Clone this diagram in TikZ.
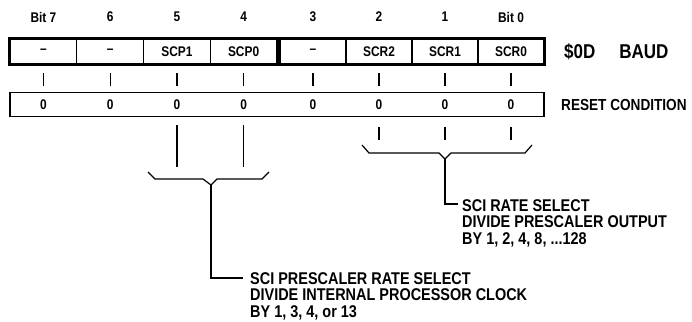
\documentclass[tikz,border=0pt]{standalone}
\usepackage{fontspec}
\usetikzlibrary{calc}
\newfontfamily\regfont[FakeStretch=0.85]{Liberation Sans}
\tikzset{
  lbl/.style={inner sep=0pt,font=\regfont\bfseries\fontsize{14}{16}\selectfont},
  cell/.style={lbl,draw,line width=1.3pt,minimum height=25pt},
  note/.style={lbl,anchor=north west,align=left,font=\regfont\bfseries\fontsize{17}{16.5}\selectfont},
  wire/.style={line width=1.2pt},
}
\begin{document}
\begin{tikzpicture}[x=1pt,y=-1pt]
\useasboundingbox (0,0) rectangle (692,321);
\foreach \n/\x/\t in {7/43.4/\textendash,6/110.1/\textendash,5/176.9/SCP1,4/243.6/SCP0}
  \node[cell,minimum width=66.75pt] (c\n) at (\x,51.5) {\t};
\foreach \n/\x/\t in {3/313/\textendash,2/379/SCR2,1/445/SCR1,0/511/SCR0}
  \node[cell,minimum width=66pt] (c\n) at (\x,51.5) {\t};
\draw[line width=2.2pt] (c7.north west) rectangle (c4.south east);
\draw[line width=2.2pt] (c3.north west) rectangle (c0.south east);
\foreach \n/\t in {7/Bit 7,6/6,5/5,4/4,3/3,2/2,1/1,0/Bit 0}
  \node[lbl] (b\n) at (c\n |- 0,17) {\t};
\foreach \n in {0,...,7} \draw[wire] (c\n |- 0,73) -- (c\n |- 0,86);
\node[draw,line width=1.1pt,minimum width=534pt,minimum height=24pt,inner sep=0pt] (rst) at (277,104.5) {};
\foreach \n in {0,...,7} \node[lbl] (z\n) at (c\n |- rst) {0};
\node[lbl,anchor=west,font=\regfont\bfseries\fontsize{16}{18}\selectfont] (rc) at (561,104.5) {RESET CONDITION};
\node[lbl,anchor=west,font=\regfont\bfseries\fontsize{20}{22}\selectfont] (baud) at (564,51.5) {\$0D\hspace{24pt}BAUD};
\draw[wire] (c5 |- 0,125) -- (c5 |- 0,167);
\draw[wire] (c4 |- 0,125) -- (c4 |- 0,167);
\coordinate (ldip) at (c5.east |- 0,185);
\draw[wire] (148,172) -- (155,179) -- (203,179) -- (ldip) -- (217,179) -- (262,179) -- (269,172);
\node[note] (ltxt) at (250,272) {SCI PRESCALER RATE SELECT\\DIVIDE INTERNAL PROCESSOR CLOCK\\BY 1, 3, 4, or 13};
\draw[wire] (ldip) |- ($(ltxt.north west)+(-7,6)$);
\foreach \n in {0,1,2} \draw[wire] (c\n |- 0,127) -- (c\n |- 0,140);
\coordinate (rdip) at (c1 |- 0,159);
\draw[wire] (362,145) -- (369,153) -- (439,153) -- (rdip) -- (451,153) -- (525,153) -- (532,145);
\node[note] (rtxt) at (462,199) {SCI RATE SELECT\\DIVIDE PRESCALER OUTPUT\\BY 1, 2, 4, 8, ...128};
\draw[wire] (rdip) |- ($(rtxt.north west)+(-4,5)$);
\end{tikzpicture}
\end{document}
